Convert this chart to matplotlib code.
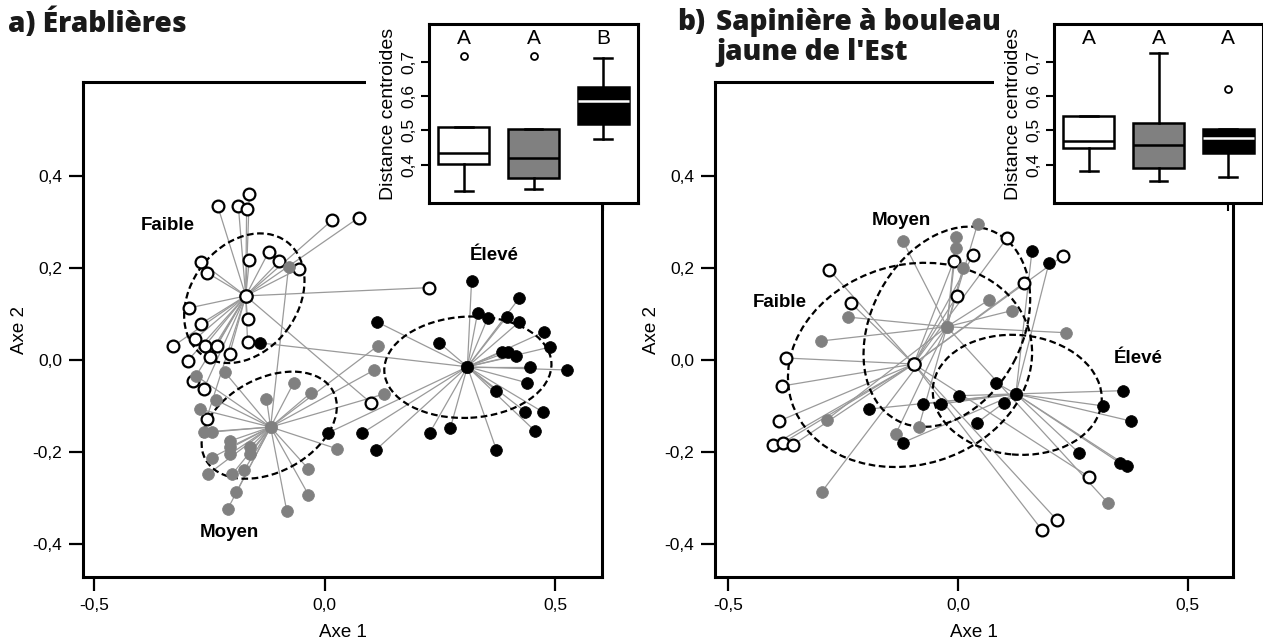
import matplotlib
matplotlib.use("Agg")
import matplotlib.pyplot as plt
from matplotlib.patches import Ellipse, Rectangle

plt.rcParams['font.family'] = ['Liberation Sans', 'DejaVu Sans']

# ---------------- panel a) Érablières : points (Axe 1, Axe 2) ----------------
a_faible_x = [-0.163, -0.232, -0.187, -0.169, 0.017, 0.074, -0.269, -0.254, -0.163, -0.121,
              -0.098, -0.056, -0.293, -0.269, -0.167, -0.280, -0.328, -0.260, -0.234, -0.167,
              -0.206, -0.249, -0.297, -0.286, -0.262, -0.256, 0.226, 0.100]
a_faible_y = [0.361, 0.335, 0.335, 0.328, 0.304, 0.309, 0.213, 0.189, 0.217, 0.235,
              0.215, 0.198, 0.113, 0.078, 0.089, 0.046, 0.030, 0.030, 0.030, 0.039,
              0.013, 0.007, -0.002, -0.046, -0.063, -0.128, 0.157, -0.093]
a_moyen_x = [-0.078, -0.217, -0.278, -0.067, -0.030, -0.126, -0.236, -0.271, -0.262, -0.245,
             -0.204, -0.204, -0.204, -0.161, -0.161, -0.245, -0.252, -0.200, -0.174, 0.026,
             -0.035, -0.191, -0.035, -0.210, -0.082, 0.115, 0.108, 0.130]
a_moyen_y = [0.202, -0.026, -0.035, -0.050, -0.072, -0.085, -0.087, -0.107, -0.157, -0.157,
             -0.176, -0.189, -0.204, -0.189, -0.204, -0.213, -0.248, -0.248, -0.239, -0.193,
             -0.237, -0.287, -0.293, -0.324, -0.328, 0.030, -0.022, -0.074]
a_eleve_x = [0.319, 0.423, 0.332, 0.354, 0.395, 0.423, 0.113, 0.477, 0.490, 0.249,
             0.384, 0.397, 0.416, 0.445, 0.525, 0.440, 0.373, 0.436, 0.473, 0.456,
             0.273, 0.228, 0.082, 0.007, 0.111, 0.373, -0.141]
a_eleve_y = [0.172, 0.135, 0.102, 0.091, 0.093, 0.083, 0.083, 0.061, 0.028, 0.037,
             0.017, 0.017, 0.009, -0.015, -0.022, -0.050, -0.067, -0.113, -0.113, -0.154,
             -0.148, -0.159, -0.159, -0.159, -0.196, -0.196, 0.037]
a_centroids = {"Faible": (-0.171, 0.139), "Moyen": (-0.117, -0.146), "Élevé": (0.310, -0.015)}
# ellipses: centre x, centre y, width, height, angle
a_ellipses = {"Faible": (-0.174, 0.134, 0.307, 0.231, 53),
              "Moyen": (-0.120, -0.142, 0.314, 0.204, 28),
              "Élevé": (0.311, -0.016, 0.363, 0.220, 3)}
a_labels = {"Faible": (-0.341, 0.291), "Moyen": (-0.206, -0.376), "Élevé": (0.369, 0.226)}

# ---------------- panel b) Sapinière à bouleau jaune de l'Est ----------------
b_faible_x = [-0.280, -0.233, -0.009, -0.002, 0.033, 0.107, 0.228, 0.143, -0.374, -0.383,
              -0.389, -0.402, -0.380, -0.359, 0.285, 0.215, 0.183]
b_faible_y = [0.196, 0.124, 0.215, 0.139, 0.228, 0.265, 0.226, 0.167, 0.004, -0.057,
              -0.133, -0.185, -0.180, -0.185, -0.254, -0.348, -0.370]
b_moyen_x = [-0.120, -0.004, -0.004, 0.043, 0.011, 0.067, 0.117, 0.235, -0.239, -0.298,
             -0.285, -0.135, -0.085, -0.296, 0.326]
b_moyen_y = [0.259, 0.267, 0.243, 0.296, 0.200, 0.130, 0.107, 0.059, 0.093, 0.041,
             -0.130, -0.161, -0.146, -0.287, -0.311]
b_eleve_x = [0.161, 0.198, 0.083, 0.100, 0.002, -0.037, -0.076, -0.193, -0.120, 0.041,
             0.359, 0.315, 0.376, 0.263, 0.352, 0.367]
b_eleve_y = [0.237, 0.211, -0.050, -0.093, -0.078, -0.096, -0.096, -0.107, -0.180, -0.137,
             -0.067, -0.100, -0.133, -0.202, -0.224, -0.230]
b_centroids = {"Faible": (-0.096, -0.009), "Moyen": (-0.024, 0.072), "Élevé": (0.126, -0.074)}
b_ellipses = {"Faible": (-0.104, -0.011, 0.539, 0.434, 17),
              "Moyen": (-0.024, 0.072, 0.461, 0.329, 62),
              "Élevé": (0.129, -0.076, 0.368, 0.260, -5)}
b_labels = {"Faible": (-0.387, 0.124), "Moyen": (-0.122, 0.302), "Élevé": (0.391, 0.004)}

# ---------------- inset boxplots: distance to centroid ----------------
box_groups = ["Faible", "Moyen", "Élevé"]
a_q1 = [0.403, 0.362, 0.518]
a_med = [0.435, 0.418, 0.585]
a_q3 = [0.509, 0.503, 0.626]
a_whislo = [0.324, 0.330, 0.474]
a_whishi = [0.509, 0.503, 0.710]
a_fliers = [[0.718], [0.718], []]
a_letters = ["A", "A", "B"]

b_q1 = [0.447, 0.391, 0.433]
b_med = [0.470, 0.456, 0.478]
b_q3 = [0.541, 0.521, 0.505]
b_whislo = [0.382, 0.353, 0.363]
b_whishi = [0.541, 0.726, 0.505]
b_fliers = [[], [], [0.620]]
b_letters = ["A", "A", "A"]

face = {"Faible": "white", "Moyen": "#808080", "Élevé": "black"}
edge = {"Faible": "black", "Moyen": "#808080", "Élevé": "black"}

W, H = 1263, 642
fig = plt.figure(figsize=(W / 100, H / 100), dpi=100)


def fx(px):
    return px / W


def fy(py):
    return 1 - py / H


def comma(v):
    return f"{v:.1f}".replace(".", ",").replace("-0,0", "0,0")


def scatter_panel(rect, xlim, pts, centroids, ellipses, labels):
    ax = fig.add_axes(rect)
    for g, (xs, ys) in pts.items():
        cx, cy = centroids[g]
        for x, y in zip(xs, ys):
            ax.plot([cx, x], [cy, y], color="#9a9a9a", lw=0.9, zorder=1)
    for g, (ex, ey, w, h, ang) in ellipses.items():
        ax.add_patch(Ellipse((ex, ey), w, h, angle=ang, fill=False, ec="black",
                             lw=1.6, ls=(0, (3, 1.6)), zorder=2))
    for g, (xs, ys) in pts.items():
        lw = 1.6 if g == "Faible" else 0.5
        ax.scatter(xs, ys, s=72, c=face[g], edgecolors=edge[g], linewidths=lw, zorder=3)
        cx, cy = centroids[g]
        ax.scatter([cx], [cy], s=80, c=face[g], edgecolors=edge[g], linewidths=lw, zorder=4)
    for g, (lx, ly) in labels.items():
        ax.text(lx, ly, g, ha="center", va="center", fontsize=13.5, fontweight="bold")
    ax.set_xlim(*xlim)
    ax.set_ylim(-0.472, 0.604)
    xt = [-0.5, 0.0, 0.5]
    yt = [-0.4, -0.2, 0.0, 0.2, 0.4]
    ax.set_xticks(xt)
    ax.set_xticklabels([comma(v) for v in xt])
    ax.set_yticks(yt)
    ax.set_yticklabels([comma(v) for v in yt])
    ax.tick_params(direction="out", length=10, width=1.6, labelsize=12.5, pad=5)
    for s in ax.spines.values():
        s.set_linewidth(2.2)
    ax.set_xlabel("Axe 1", fontsize=13.5, labelpad=8)
    ax.set_ylabel("Axe 2", fontsize=13.5, labelpad=3)
    return ax


def box_panel(rect, q1, med, q3, lo, hi, fliers, letters):
    ax = fig.add_axes(rect, zorder=5)
    stats = []
    for i in range(3):
        stats.append({"q1": q1[i], "med": med[i], "q3": q3[i], "whislo": lo[i],
                      "whishi": hi[i], "fliers": fliers[i]})
    bp = ax.bxp(stats, positions=[1, 2, 3], widths=0.73, patch_artist=True,
                capwidths=0.25,
                boxprops=dict(lw=1.8, edgecolor="black"),
                whiskerprops=dict(lw=1.8, color="black"),
                capprops=dict(lw=1.8, color="black"),
                medianprops=dict(lw=1.8, color="black"),
                flierprops=dict(marker="o", markersize=5, markerfacecolor="white",
                                markeredgecolor="black", markeredgewidth=1.3))
    for i, g in enumerate(box_groups):
        bp["boxes"][i].set_facecolor(face[g])
    bp["medians"][2].set_color("white")
    for i, t in enumerate(letters):
        ax.text(i + 1, 0.768, t, ha="center", va="center", fontsize=15)
    ax.set_xlim(0.5, 3.5)
    ax.set_ylim(0.288, 0.81)
    yt = [0.4, 0.5, 0.6, 0.7]
    ax.set_yticks(yt)
    ax.set_yticklabels([comma(v) for v in yt], rotation=90, va="center")
    ax.set_xticks([3])
    ax.set_xticklabels([""])
    ax.tick_params(axis="y", direction="out", length=6, width=1.5, labelsize=12.5, pad=3)
    ax.tick_params(axis="x", direction="out", length=6, width=1.5)
    for s in ax.spines.values():
        s.set_linewidth(2.2)
    ax.set_ylabel("Distance centroides", fontsize=14, labelpad=3)
    return ax


ax_a = scatter_panel([fx(83), fy(577), fx(602) - fx(83), fy(82) - fy(577)],
                     (-0.524, 0.602),
                     {"Faible": (a_faible_x, a_faible_y), "Moyen": (a_moyen_x, a_moyen_y),
                      "Élevé": (a_eleve_x, a_eleve_y)},
                     a_centroids, a_ellipses, a_labels)
ax_b = scatter_panel([fx(715), fy(577), fx(1233) - fx(715), fy(82) - fy(577)],
                     (-0.528, 0.598),
                     {"Faible": (b_faible_x, b_faible_y), "Moyen": (b_moyen_x, b_moyen_y),
                      "Élevé": (b_eleve_x, b_eleve_y)},
                     b_centroids, b_ellipses, b_labels)

# white background behind the inset labels (hides the main frame there)
for x0, x1 in [(366, 429), (994, 1054)]:
    fig.patches.append(Rectangle((fx(x0), fy(204)), fx(x1) - fx(x0), fy(24) - fy(204),
                                 transform=fig.transFigure, fc="white", ec="none", zorder=3))

box_panel([fx(429), fy(203), fx(638) - fx(429), fy(24) - fy(203)],
          a_q1, a_med, a_q3, a_whislo, a_whishi, a_fliers, a_letters)
box_panel([fx(1054), fy(203), fx(1263) - fx(1054), fy(24) - fy(203)],
          b_q1, b_med, b_q3, b_whislo, b_whishi, b_fliers, b_letters)

tkw = dict(fontsize=20.2, fontweight="heavy", family=["Open Sans", "DejaVu Sans"],
           va="baseline", color="#1a1a1a", zorder=10)
fig.text(fx(8), fy(32), "a) Érablières", **tkw)
fig.text(fx(677), fy(30), "b)", **tkw)
fig.text(fx(716), fy(30), "Sapinière à bouleau", **tkw)
fig.text(fx(716), fy(60), "jaune de l'Est", **tkw)

fig.savefig("out.png", dpi=100)
